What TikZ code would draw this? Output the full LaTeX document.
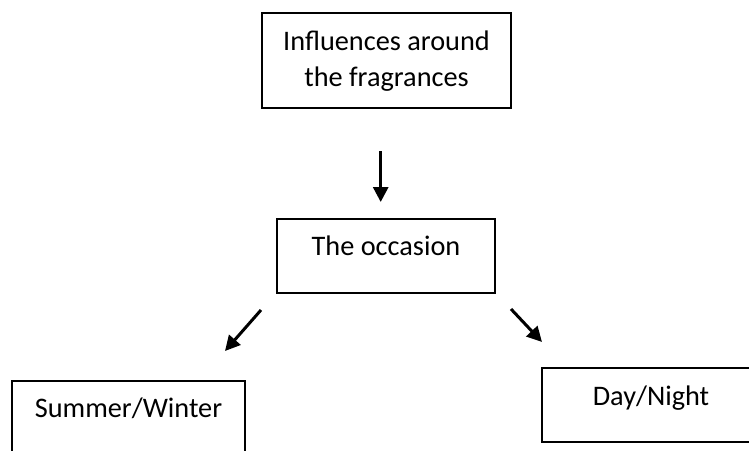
\documentclass[tikz,border=0pt]{standalone}
\usepackage{fontspec}
\setmainfont{Carlito}
\usetikzlibrary{arrows.meta}
\begin{document}
\begin{tikzpicture}[x=1pt,y=-1pt,
  box/.style={draw=black,line width=1.6pt,rectangle,inner sep=0pt,
    font=\fontsize{28.3}{36.7}\selectfont},
  arr/.style={line width=3pt,-{Triangle[length=15pt,width=15pt]}}]
\useasboundingbox (0,0) rectangle (749,450);
\node[box,minimum width=249,text height=37pt,text depth=58pt] (top) at (386.5,60.5)
  {\begin{tabular}[t]{@{}c@{}}Influences around\\the fragrances\end{tabular}};
\node[box,minimum width=218,text height=36pt,text depth=38pt] (occ) at (386,256) {The occasion};
\node[box,minimum width=233,text height=36pt,text depth=38pt] (sw) at (128.5,418) {Summer/Winter};
\node[box,minimum width=218,text height=37pt,text depth=37pt] (dn) at (651,405) {Day/Night};
\coordinate (a1s) at (380.7,151);
\coordinate (a1e) at (380.7,202);
\coordinate (a2s) at (261,310);
\coordinate (a2e) at (225,351);
\coordinate (a3s) at (511,309);
\coordinate (a3e) at (542,342);
\draw[arr] (a1s) -- (a1e);
\draw[arr] (a2s) -- (a2e);
\draw[arr] (a3s) -- (a3e);
\end{tikzpicture}
\end{document}
